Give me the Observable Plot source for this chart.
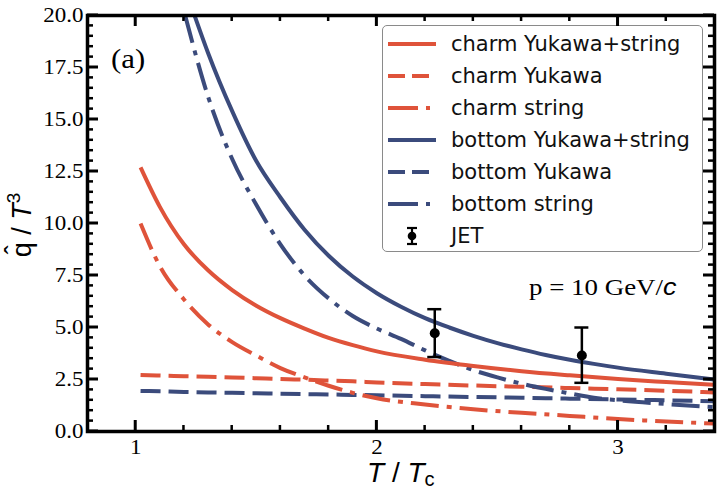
<!DOCTYPE html>
<html><head><meta charset="utf-8">
<script src="https://cdn.jsdelivr.net/npm/d3@7"></script>
<script src="https://cdn.jsdelivr.net/npm/@observablehq/plot@0.6"></script>
<style>
body{margin:0;background:#fff;}
#wrap{position:relative;width:723px;height:497px;overflow:hidden;}
.ov{position:absolute;white-space:nowrap;line-height:1;}
#ticks{position:absolute;left:0;top:0;z-index:5;pointer-events:none;}
#legend{position:absolute;left:382px;top:25px;width:321px;height:227px;border:1.5px solid #8a8a8a;border-radius:5px;background:#fff;box-sizing:border-box;padding-top:2px;}
.row{display:flex;align-items:center;height:32px;font-family:"DejaVu Sans";font-size:21px;color:#111;}
.row svg{margin-left:5px;margin-right:15px;flex:none;}
</style></head><body><div id="wrap"></div>
<script>
// ---- data ----
const charmT = [1.02,1.1,1.2,1.3,1.4,1.5,1.6,1.7,1.8,1.9,2.0,2.2,2.4,2.6,2.8,3.0,3.2,3.4];
const charmTotal  = [12.7,10.8,9.0,7.75,6.8,6.05,5.45,4.95,4.5,4.15,3.85,3.45,3.15,2.9,2.7,2.52,2.38,2.25];
const charmYukawa = [2.72,2.69,2.66,2.63,2.6,2.56,2.52,2.49,2.45,2.41,2.36,2.28,2.21,2.15,2.09,2.03,1.96,1.88];
const charmString = [10.0,7.95,6.35,5.15,4.3,3.65,3.05,2.6,2.2,1.86,1.6,1.3,1.07,0.9,0.75,0.6,0.48,0.38];
const bottomYukawa = [1.95,1.93,1.9,1.88,1.86,1.84,1.82,1.8,1.78,1.76,1.74,1.7,1.66,1.62,1.58,1.54,1.5,1.46];
const bottomTotalT = [1.244,1.3,1.4,1.5,1.6,1.7,1.8,1.9,2.0,2.1,2.2,2.3,2.4,2.5,2.6,2.7,2.8,2.9,3.0,3.2,3.4];
const bottomTotal  = [20.0,18.2,15.4,13.0,11.25,9.7,8.45,7.45,6.65,6.0,5.45,5.0,4.6,4.25,3.95,3.68,3.45,3.25,3.07,2.78,2.5];
const bottomStringT = [1.205,1.3,1.4,1.5,1.6,1.7,1.8,1.9,2.0,2.1,2.2,2.3,2.4,2.5,2.6,2.7,2.8,2.9,3.0,3.2,3.4];
const bottomString  = [20.0,16.1,13.1,10.9,9.0,7.5,6.4,5.55,4.95,4.45,3.9,3.4,2.95,2.6,2.3,2.05,1.83,1.62,1.5,1.32,1.17];
const jetT  = [2.24, 2.85];
const jetV  = [4.72, 3.65];
const jetLo = [3.58, 2.34];
const jetHi = [5.88, 5.00];
const xMajor = [1,2,3];
const xMinor = [1.2,1.4,1.6,1.8,2.2,2.4,2.6,2.8,3.2];
const yMajor = [0,2.5,5,7.5,10,12.5,15,17.5,20];
const yMinor = d3.range(0,20.01,0.5).filter(v => Math.abs(v/2.5 - Math.round(v/2.5)) > 1e-6);
const seriesNames = ["charm Yukawa+string","charm Yukawa","charm string","bottom Yukawa+string","bottom Yukawa","bottom string"];

const RED = "#df533a", BLUE = "#3b4b7c";
const DASH = "20,8", DASHDOT = "28,8,5,8";
const toPts = (xs, ys) => xs.map((x,i) => ({x, y: ys[i]}));
const jet = jetT.map((x,i) => ({x, v: jetV[i], lo: jetLo[i], hi: jetHi[i]}));

const W = 723, H = 497, mL = 87, mR = 9, mT = 15, mB = 66;
const XD = [0.8, 3.4], YD = [0, 20];
const MAJ = 11, MIN = 6;

const line = (xs, ys, color, dash) => Plot.line(toPts(xs, ys), {x:"x", y:"y", stroke: color, strokeWidth: 4, strokeDasharray: dash, curve: "monotone-x", strokeLinecap: "butt"});

const plot = Plot.plot({
  width: W, height: H,
  marginLeft: mL, marginRight: mR, marginTop: mT, marginBottom: mB,
  style: {fontFamily: "Liberation Serif", fontSize: "20px", background: "#fff"},
  x: {domain: XD},
  y: {domain: YD},
  marks: [
    line(charmT, charmYukawa, RED, DASH),
    line(charmT, bottomYukawa, BLUE, DASH),
    line(charmT, charmString, RED, DASHDOT),
    line(bottomStringT, bottomString, BLUE, DASHDOT),
    line(charmT, charmTotal, RED, null),
    line(bottomTotalT, bottomTotal, BLUE, null),
    Plot.ruleX(jet, {x:"x", y1:"lo", y2:"hi", stroke:"#000", strokeWidth:2.5}),
    Plot.ruleY(jet, {y:"hi", x1:"x", x2:"x", insetLeft:-7, insetRight:-7, stroke:"#000", strokeWidth:2.5}),
    Plot.ruleY(jet, {y:"lo", x1:"x", x2:"x", insetLeft:-7, insetRight:-7, stroke:"#000", strokeWidth:2.5}),
    Plot.dot(jet, {x:"x", y:"v", r:5, fill:"#000"}),
    Plot.axisX({ticks: xMajor, tickSize: 0, tickPadding: 8, label: null, tickFormat: d3.format("d")}),
    Plot.axisY({ticks: yMajor, tickSize: 0, tickPadding: 4, label: null, tickFormat: d3.format(".1f")}),
    Plot.frame({stroke:"#000", strokeWidth:3.5})
  ]
});

const wrap = document.getElementById("wrap");
wrap.appendChild(plot);
const svg = d3.select(plot);
// slight horizontal stretch of serif tick labels, as in the reference
svg.selectAll('g[aria-label="y-axis tick label"] text, g[aria-label="x-axis tick label"] text')
  .each(function(){ const t = this.getAttribute("transform") || ""; this.setAttribute("transform", t + " scale(1.15,1)"); });

// inward ticks on all four sides, positioned with the plot's own scales (drawn in a layer on top)
const sx = plot.scale("x"), sy = plot.scale("y");
const x0 = sx.apply(XD[0]), x1 = sx.apply(XD[1]), y0 = sy.apply(YD[0]), y1 = sy.apply(YD[1]);
const tsvg = d3.select(wrap).append("svg").attr("id","ticks").attr("width", W).attr("height", H).attr("viewBox", `0 0 ${W} ${H}`);
const segs = [];
xMajor.forEach(v => { const p = sx.apply(v); segs.push([p,y0,p,y0-MAJ,3],[p,y1,p,y1+MAJ,3]); });
xMinor.forEach(v => { const p = sx.apply(v); segs.push([p,y0,p,y0-MIN,2.5],[p,y1,p,y1+MIN,2.5]); });
yMajor.forEach(v => { const p = sy.apply(v); segs.push([x0,p,x0+MAJ,p,3],[x1,p,x1-MAJ,p,3]); });
yMinor.forEach(v => { const p = sy.apply(v); segs.push([x0,p,x0+MIN,p,2.5],[x1,p,x1-MIN,p,2.5]); });
tsvg.selectAll("rect").data(segs).join("rect")
  .attr("x", d => Math.min(d[0], d[2]) - (d[0] === d[2] ? d[4]/2 : 0))
  .attr("y", d => Math.min(d[1], d[3]) - (d[1] === d[3] ? d[4]/2 : 0))
  .attr("width", d => d[0] === d[2] ? d[4] : Math.abs(d[2]-d[0]))
  .attr("height", d => d[1] === d[3] ? d[4] : Math.abs(d[3]-d[1]))
  .attr("fill", "#000");

function ov(html, css){ const d = document.createElement("div"); d.className = "ov"; d.innerHTML = html; Object.assign(d.style, css); wrap.appendChild(d); return d; }

// axis titles
ov('<span style="font-style:italic">T</span> / <span style="font-style:italic">T</span><span style="font-size:20px;position:relative;top:4px">c</span>',
   {left:"367px", top:"459px", fontFamily:"Liberation Sans", fontSize:"28px"});
ov('<span style="position:relative;display:inline-block">q<span style="position:absolute;left:0;right:0;top:-7px;text-align:center">&#710;</span></span> / <span style="font-style:italic">T</span><span style="font-size:19px;position:relative;top:-11px">3</span>',
   {left:"22px", top:"225px", fontFamily:"Liberation Sans", fontSize:"27px", transform:"translate(-50%,-50%) rotate(-90deg)"});
// annotations
ov('(a)', {left:"111px", top:"45px", fontFamily:"Liberation Serif", fontSize:"28px", transform:"scaleX(1.1)", transformOrigin:"left"});
ov('p = 10 GeV/<span style="font-family:Liberation Sans;font-style:italic">c</span>',
   {left:"529px", top:"276px", fontFamily:"Liberation Serif", fontSize:"23px", transform:"scaleX(1.17)", transformOrigin:"left"});

// legend
const styles = [[RED,null],[RED,DASH],[RED,DASHDOT],[BLUE,null],[BLUE,DASH],[BLUE,DASHDOT]];
const lg = document.createElement("div"); lg.id = "legend"; wrap.appendChild(lg);
const legDash = {[DASH]:"17,7", [DASHDOT]:"30,8,4,8"};
seriesNames.forEach((name,i) => {
  const [c,d] = styles[i];
  const r = document.createElement("div"); r.className = "row";
  r.innerHTML = `<svg width="48" height="10"><line x1="0" x2="48" y1="5" y2="5" stroke="${c}" stroke-width="4" ${d ? `stroke-dasharray="${legDash[d]}"` : ""}/></svg><span>${name}</span>`;
  lg.appendChild(r);
});
const rj = document.createElement("div"); rj.className = "row";
rj.innerHTML = `<svg width="48" height="22"><line x1="24" x2="24" y1="3" y2="19" stroke="#000" stroke-width="2.2"/><line x1="19" x2="29" y1="3" y2="3" stroke="#000" stroke-width="2.2"/><line x1="19" x2="29" y1="19" y2="19" stroke="#000" stroke-width="2.2"/><circle cx="24" cy="11" r="4.3" fill="#000"/></svg><span>JET</span>`;
lg.appendChild(rj);
</script></body></html>
